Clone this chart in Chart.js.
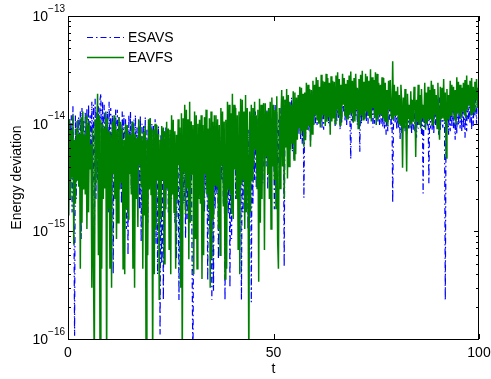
<!DOCTYPE html>
<html>
<head>
<meta charset="utf-8">
<script src="https://cdn.jsdelivr.net/npm/chart.js@4/dist/chart.umd.min.js"></script>
<style>
  html, body { margin: 0; padding: 0; background: #fff; }
  canvas { display: block; }
</style>
</head>
<body>
<canvas id="energyChart" width="491" height="379"></canvas>
<script>
// energy deviation sampled every 0.2 time units, t = 0 .. 100
const esavs = [
    1.35e-14, 3e-15, 1.1e-14, 4.6e-15, 1.2e-14, 1.5e-15, 1.45e-14, 2.45e-15, 1.07e-16, 1.2e-14, 2e-15, 1.09e-14, 3.4e-15, 1.15e-14, 5e-15, 1.3e-14, 8.5e-16, 1.4e-14, 3.5e-15, 1.09e-14,
    3.75e-15, 1.3e-14, 2.5e-15, 1.4e-14, 1.6e-15, 1.5e-14, 4e-15, 1.2e-14, 5.75e-15, 1.6e-14, 3e-15, 1.5e-14, 5.5e-16, 1.7e-14, 2e-15, 1.3e-14, 3e-15, 1.45e-14, 4.5e-15, 1.67e-14,
    1.9e-14, 2.5e-15, 1.6e-14, 4.6e-15, 1.5e-14, 3.5e-15, 1.25e-14, 2e-15, 1.3e-14, 1.5e-15, 1.6e-14, 6.4e-15, 1.4e-14, 2.8e-15, 1.2e-14, 4e-16, 1.12e-14, 5e-15, 1.35e-14, 3.75e-15,
    1.35e-14, 4e-15, 1.15e-14, 2.45e-15, 1.04e-14, 1.8e-15, 1.3e-14, 5.75e-15, 1.2e-14, 3e-15, 1.1e-14, 1.05e-15, 9.7e-15, 6e-16, 1.2e-14, 3.4e-15, 1.3e-14, 2.5e-15, 1.05e-14, 6.8e-16,
    1.09e-14, 2e-15, 1.2e-14, 4.1e-15, 9.2e-15, 4.5e-15, 1.1e-14, 1.6e-15, 1.2e-14, 8e-16, 1e-14, 3e-15, 9.7e-15, 2.2e-15, 1.15e-14, 2.9e-16, 8.8e-15, 1.2e-15, 1.05e-14, 3.75e-15,
    1.12e-14, 3.5e-15, 1e-14, 2e-15, 9.7e-15, 1.5e-15, 1.1e-14, 7.6e-16, 8.8e-15, 4e-16, 9.5e-15, 3e-15, 1.1e-16, 8e-15, 5e-16, 7.1e-15, 2.3e-16, 8.5e-15, 1.8e-15, 9.2e-15,
    2.45e-15, 8.5e-15, 1.5e-15, 7.9e-15, 1.05e-15, 7e-15, 2e-15, 6.4e-15, 3.75e-15, 7.5e-15, 1.2e-15, 5.75e-15, 5.5e-16, 6e-15, 4e-15, 2.3e-16, 7.1e-15, 2.2e-15, 6.5e-15, 1.6e-15,
    7.9e-15, 1.8e-15, 6e-15, 8.5e-16, 5.75e-15, 1.3e-15, 9e-15, 2.7e-15, 8.8e-15, 3e-15, 6.5e-15, 4.5e-16, 5e-17, 5.5e-15, 2.5e-15, 4.6e-15, 1.3e-15, 8e-15, 3.2e-15, 7.1e-15,
    2e-15, 7.5e-15, 3e-15, 6.4e-15, 6.8e-16, 5.5e-15, 1.5e-15, 4.6e-15, 2.45e-15, 6e-15, 3.5e-16, 7.9e-15, 1.05e-15, 5e-15, 6e-15, 2.3e-16, 5.75e-15, 2.8e-16, 7e-15, 1.6e-15,
    7.1e-15, 2.2e-15, 6e-15, 5.5e-16, 5.2e-15, 1.2e-15, 7.5e-15, 3e-15, 6.4e-15, 1.8e-15, 5.5e-15, 2.3e-16, 4.6e-15, 6.5e-15, 2.5e-15, 1.45e-15, 8.8e-15, 3e-16, 6e-15, 8.5e-16,
    5.75e-15, 2.5e-15, 1e-14, 1.45e-14, 2e-15, 8.5e-15, 4e-15, 7.9e-15, 6.8e-16, 6e-15, 5e-15, 2.3e-16, 7.1e-15, 1.5e-15, 9e-15, 2.45e-15, 9.7e-15, 3e-15, 1.1e-14, 1.05e-15,
    8.8e-15, 3e-15, 1.2e-14, 2.2e-16, 1.09e-14, 1.8e-15, 1.25e-14, 3e-15, 1.3e-14, 2.5e-15, 1.1e-14, 4.6e-15, 9.7e-15, 5e-15, 1.3e-14, 2e-15, 1.35e-14, 2.8e-15, 1.15e-14, 3.75e-15,
    1.2e-14, 4e-15, 1.35e-14, 2.45e-15, 1.4e-14, 3.2e-15, 1.25e-14, 5.75e-15, 1.12e-14, 4.5e-15, 1.45e-14, 1.6e-15, 1.5e-14, 6e-15, 1.3e-14, 4.1e-15, 1.09e-14, 3e-15, 1.4e-14, 7.1e-15,
    1.35e-14, 5e-15, 1.5e-14, 4.7e-16, 1.67e-14, 7e-15, 1.5e-14, 5.75e-15, 1.4e-14, 6e-15, 1.6e-14, 7.9e-15, 1.75e-14, 5.5e-15, 1.55e-14, 4.6e-15, 1.5e-14, 7e-15, 1.7e-14, 8.8e-15,
    1.67e-14, 8e-15, 1.8e-14, 7.1e-15, 1.85e-14, 6.5e-15, 1.6e-14, 2.05e-15, 1.6e-14, 7.5e-15, 1.9e-14, 8.8e-15, 1.95e-14, 8.5e-15, 1.7e-14, 6.4e-15, 1.75e-14, 8e-15, 2e-14, 9.7e-15,
    1.85e-14, 1e-14, 2.1e-14, 9.7e-15, 2.15e-14, 1.05e-14, 1.9e-14, 1.12e-14, 1.95e-14, 9e-15, 2.2e-14, 8.8e-15, 2.3e-14, 1.15e-14, 2e-14, 1.09e-14, 2.05e-14, 1e-14, 2.25e-14, 9.2e-15,
    2.15e-14, 1.1e-14, 2.4e-14, 1.2e-14, 1.95e-14, 9.5e-15, 2.2e-14, 1.04e-14, 2.3e-14, 1.1e-14, 2e-14, 8.8e-15, 1.85e-14, 1e-14, 2.3e-14, 1.3e-14, 2.25e-14, 1.05e-14, 2.1e-14, 9.7e-15,
    2.05e-14, 1.1e-14, 2.3e-14, 1.09e-14, 4.7e-15, 2e-14, 1.05e-14, 1.85e-14, 1.2e-14, 2.2e-14, 1.15e-14, 2.15e-14, 9.7e-15, 2.1e-14, 1.9e-14, 5.5e-15, 1.95e-14, 1e-14, 2.2e-14, 1.12e-14,
    2.3e-14, 1.1e-14, 2.1e-14, 1.04e-14, 1.95e-14, 1e-14, 2.25e-14, 1.2e-14, 2.15e-14, 1.15e-14, 1.95e-14, 9.2e-15, 1.85e-14, 1e-14, 2.3e-14, 1.12e-14, 2.05e-14, 1.05e-14, 1.9e-14, 9.7e-15,
    1.75e-14, 1e-14, 2.1e-14, 9.2e-15, 1.95e-14, 9e-15, 1.8e-14, 7.9e-15, 1.67e-14, 8.5e-15, 2e-14, 1.09e-14, 1.85e-14, 9e-15, 1.7e-14, 1.85e-15, 1.12e-14, 1.8e-14, 1e-14, 1.67e-14,
    8.8e-15, 1.6e-14, 9e-15, 1.5e-14, 7.1e-15, 1.7e-14, 8e-15, 1.35e-14, 9.7e-15, 1.5e-14, 8.5e-15, 1.67e-14, 7.9e-15, 1.55e-14, 9e-15, 1.3e-14, 9.2e-15, 1.75e-14, 8e-15, 1.6e-14,
    8.8e-15, 1.6e-14, 8.5e-15, 1.4e-14, 7.4e-15, 1.55e-14, 9e-15, 1.2e-14, 9.7e-15, 1.7e-14, 8e-15, 1.5e-14, 2.25e-15, 1.45e-14, 9e-15, 1.09e-14, 1.67e-14, 9.5e-15, 1.5e-14, 2.8e-15,
    1.35e-14, 9e-15, 1.8e-14, 8.8e-15, 1.67e-14, 8e-15, 1.6e-14, 9.7e-15, 1.4e-14, 9.5e-15, 1.7e-14, 7.9e-15, 1.75e-14, 8.5e-15, 1.5e-14, 1.09e-14, 9.2e-15, 1.6e-14, 1.4e-14, 2.3e-16,
    1.5e-14, 9e-15, 1.8e-14, 7.9e-15, 1.67e-14, 8.5e-15, 1.9e-14, 9.2e-15, 1.85e-14, 9e-15, 1.6e-14, 7.1e-15, 1.6e-14, 8e-15, 1.9e-14, 9.7e-15, 1.75e-14, 9e-15, 2e-14, 8.4e-15,
    1.95e-14, 9e-15, 2.1e-14, 7.4e-15, 1.67e-14, 8.5e-15, 1.9e-14, 1.09e-14, 1.85e-14, 1e-14, 2.2e-14, 8.8e-15, 2.05e-14, 9.5e-15, 1.8e-14, 1.2e-14, 1.75e-14, 1e-14, 2e-14, 1.5e-14,
    1.4e-14
];

const eavfs = [
    9.7e-15, 1.4e-15, 1.1e-14, 2e-15, 8.8e-15, 3.2e-15, 1.2e-14, 7.6e-16, 7.1e-15, 1.8e-15, 9e-15, 3e-15, 1.09e-14, 2.6e-15, 8e-15, 4.5e-16, 1.15e-14, 1.2e-15, 1.3e-14, 2.45e-15,
    7.9e-15, 2.2e-15, 1.2e-14, 1.05e-15, 9.7e-15, 1.5e-15, 1.05e-14, 3.75e-15, 6.4e-15, 3e-16, 9e-15, 4.5e-16, 5e-17, 1.1e-14, 2.8e-15, 8.4e-15, 1.9e-14, 6e-16, 1.2e-14, 5e-17,
    1.09e-14, 4.5e-16, 1e-14, 2e-15, 9.2e-15, 2.5e-15, 1.3e-14, 5e-17, 1.12e-14, 1.6e-15, 8.5e-15, 4.5e-16, 7.9e-15, 3e-16, 1.05e-14, 3.4e-15, 1.2e-14, 2e-15, 9.5e-15, 8.5e-16,
    8.8e-15, 1.2e-15, 1.15e-14, 2.45e-15, 1.04e-14, 2.8e-15, 9e-15, 4.5e-16, 7.1e-15, 4e-16, 1e-14, 1.6e-15, 9.7e-15, 1.3e-15, 8.2e-15, 3.4e-15, 7.9e-15, 2.2e-15, 1.05e-14, 4.5e-16,
    9.2e-15, 3e-16, 8e-15, 2e-15, 7.4e-15, 1.1e-15, 1.1e-14, 4.1e-15, 9.4e-15, 2.6e-15, 7.5e-15, 4.5e-16, 8.4e-15, 1.4e-15, 9.5e-15, 5e-17, 7.1e-15, 6e-16, 1.1e-14, 2.45e-15,
    1.12e-14, 2.2e-15, 9e-15, 5e-17, 8.8e-15, 4e-16, 1e-14, 1.05e-15, 9.7e-15, 3e-15, 8e-15, 2.3e-16, 7.1e-15, 1.3e-15, 9.5e-15, 3e-15, 9.2e-15, 5e-16, 8.5e-15, 1.6e-15,
    1.04e-14, 2.5e-15, 9e-15, 6.8e-16, 8.8e-15, 4e-16, 1.2e-14, 2.2e-15, 1.09e-14, 1.5e-15, 8.5e-15, 4.5e-16, 7.9e-15, 2e-15, 1.1e-14, 4.1e-15, 9.2e-15, 3e-16, 1.25e-14, 5e-17,
    1.12e-14, 3.5e-15, 1.5e-14, 1.45e-15, 1.35e-14, 2.5e-15, 1.1e-14, 5.5e-16, 1.6e-14, 1.2e-15, 1.05e-14, 3.4e-15, 9.7e-15, 4e-16, 1.3e-14, 8.5e-16, 1.2e-14, 4.5e-16, 1e-14, 2e-15,
    1.09e-14, 1.8e-15, 1.2e-14, 3.6e-16, 9.7e-15, 6e-16, 1.15e-14, 3.4e-15, 1.35e-14, 2.2e-15, 9e-15, 1.6e-15, 1.12e-14, 3e-16, 1.3e-14, 5.5e-16, 1.04e-14, 1.3e-15, 1.2e-14, 2.7e-15,
    1.2e-14, 2.6e-15, 1.1e-14, 1.05e-15, 9.7e-15, 6e-16, 1.4e-14, 4.1e-15, 1.3e-14, 1.7e-15, 1.05e-14, 3.6e-16, 1.09e-14, 4.5e-16, 1.6e-14, 2.45e-15, 1.5e-14, 2.2e-15, 1.25e-14, 1.45e-15,
    1.9e-14, 1.3e-15, 1.5e-14, 3.75e-15, 1.4e-14, 2e-15, 1.2e-14, 6.8e-16, 1.3e-14, 4e-16, 1.7e-14, 2.7e-15, 1.67e-14, 3e-15, 1.3e-14, 1.05e-15, 1.85e-14, 1.5e-15, 1.4e-14, 4.6e-15,
    5e-17, 1.3e-14, 1.5e-15, 1.5e-14, 3e-15, 1.4e-14, 4e-15, 1.6e-14, 5.75e-15, 1.2e-14, 2.5e-15, 1.35e-14, 3.4e-16, 1.7e-14, 1.2e-15, 1.5e-14, 2e-15, 1.3e-14, 1.55e-14, 6.7e-16,
    1.55e-14, 5e-15, 1.3e-14, 3.4e-15, 1.4e-14, 2e-15, 1.6e-14, 1.05e-15, 1.75e-14, 4e-15, 1.5e-14, 3e-15, 1.35e-14, 1.6e-15, 1.8e-14, 8.5e-16, 4.5e-16, 1.4e-14, 2.5e-15, 1.09e-14,
    2.05e-14, 4e-15, 1.8e-14, 2e-15, 1.67e-14, 6e-15, 2.1e-14, 3.1e-15, 1.85e-14, 4e-15, 1.6e-14, 5.75e-15, 1.5e-14, 6.5e-15, 2e-14, 4.6e-15, 1.95e-14, 5.2e-15, 1.75e-14, 7.1e-15,
    1.85e-14, 9e-15, 2.2e-14, 7.9e-15, 2.15e-14, 8.5e-15, 1.9e-14, 6.1e-15, 1.95e-14, 7e-15, 2.4e-14, 8.8e-15, 2.3e-14, 9.5e-15, 2.1e-14, 6.1e-15, 2.05e-14, 8e-15, 2.5e-14, 9.7e-15,
    2.3e-14, 1.2e-14, 2.7e-14, 1.09e-14, 2.55e-14, 1e-14, 2.2e-14, 9.2e-15, 2.85e-14, 1.1e-14, 2.5e-14, 1.2e-14, 2.45e-14, 9.5e-15, 2.9e-14, 1.04e-14, 2.65e-14, 1.15e-14, 2.4e-14, 7.9e-15,
    2.75e-14, 1.05e-14, 2.5e-14, 1.12e-14, 2.45e-14, 1e-14, 2.8e-14, 1.35e-14, 3e-14, 1.2e-14, 2.6e-14, 9.7e-15, 2.3e-14, 1.1e-14, 2.9e-14, 1.5e-14, 2.65e-14, 1.2e-14, 2.35e-14, 1.09e-14,
    2.55e-14, 1.1e-14, 2.8e-14, 1.2e-14, 3.05e-14, 1.25e-14, 2.5e-14, 1.02e-14, 2.65e-14, 1.05e-14, 2.9e-14, 1.35e-14, 2.15e-14, 9e-15, 2.6e-14, 1e-14, 2.85e-14, 1.2e-14, 3.1e-14, 1.09e-14,
    2.45e-14, 1.1e-14, 2.9e-14, 1.3e-14, 2.75e-14, 1.2e-14, 2.5e-14, 1.12e-14, 3.2e-14, 1.05e-14, 2.7e-14, 1.4e-14, 2.55e-14, 1.15e-14, 3e-14, 9.7e-15, 2.9e-14, 1.1e-14, 2.4e-14, 1.2e-14,
    2.3e-14, 1.2e-14, 2.7e-14, 1.12e-14, 2.65e-14, 1.05e-14, 2.4e-14, 1.04e-14, 2.05e-14, 9.5e-15, 2.5e-14, 1.35e-14, 2.55e-14, 1.2e-14, 1.1e-14, 3.8e-14, 1.09e-14, 2.3e-14, 1.2e-14, 2e-14,
    1.2e-14, 2.2e-14, 1e-14, 1.85e-14, 9.7e-15, 2.3e-14, 1.6e-14, 3.9e-15, 1.75e-14, 9e-15, 2.1e-14, 1.09e-14, 3.6e-15, 1.9e-14, 1.1e-14, 1.5e-14, 9e-15, 2e-14, 1e-14, 1.67e-14,
    1.04e-14, 2.2e-14, 1.8e-14, 4.9e-15, 1.67e-14, 1.05e-14, 2.3e-14, 9.7e-15, 1.85e-14, 9e-15, 2.1e-14, 1.12e-14, 1.5e-14, 1.05e-14, 2.4e-14, 8.8e-15, 1.95e-14, 1e-14, 2.2e-14, 1.09e-14,
    2.05e-14, 1.1e-14, 2.5e-14, 9.7e-15, 2.3e-14, 1e-14, 2.1e-14, 1.2e-14, 1.85e-14, 9e-15, 2.4e-14, 1.04e-14, 7.1e-15, 2.2e-14, 1.1e-14, 2.15e-14, 1.12e-14, 2.6e-14, 1.05e-14, 1.95e-14,
    4.8e-15, 2.1e-14, 1.1e-14, 1.85e-14, 1.09e-14, 2.5e-14, 1.2e-14, 2.3e-14, 1.3e-14, 2.2e-14, 1.1e-14, 2.05e-14, 9.7e-15, 2.7e-14, 1.25e-14, 2.45e-14, 1.2e-14, 2.3e-14, 1.1e-14, 2.15e-14,
    1.3e-14, 2.4e-14, 1.2e-14, 2.55e-14, 1.12e-14, 2.8e-14, 1.35e-14, 2.3e-14, 1.5e-14, 2.5e-14, 1.2e-14, 2.65e-14, 1.2e-14, 2.2e-14, 1.3e-14, 2.45e-14, 1.67e-14, 2.6e-14, 1.4e-14, 2.15e-14,
    1.85e-14
];

const dt = 0.2;
const times = esavs.map((_, i) => +(i * dt).toFixed(1));

const xTicks = [0, 50, 100];
const yTicks = [1e-16, 1e-15, 1e-14, 1e-13];
const yTickExp = ['\u221216', '\u221215', '\u221214', '\u221213'];

const FONT = '"Liberation Sans", Arial, Helvetica, sans-serif';

// box, inward ticks, labels and legend, drawn in the MATLAB way
const axisDecor = {
    id: 'axisDecor',
    afterDraw(chart) {
        const { ctx, chartArea: a, scales } = chart;
        const x = scales.x, y = scales.y;
        ctx.save();
        ctx.strokeStyle = '#000';
        ctx.lineWidth = 1;
        ctx.strokeRect(a.left + 0.5, a.top + 0.5, a.right - a.left - 1, a.bottom - a.top);

        ctx.beginPath();
        xTicks.forEach(v => {
            const px = Math.round(x.getPixelForValue(v)) + 0.5;
            ctx.moveTo(px, a.bottom); ctx.lineTo(px, a.bottom - 5);
            ctx.moveTo(px, a.top); ctx.lineTo(px, a.top + 5);
        });
        yTicks.forEach(v => {
            const py = Math.round(y.getPixelForValue(v)) + 0.5;
            ctx.moveTo(a.left, py); ctx.lineTo(a.left + 5, py);
            ctx.moveTo(a.right, py); ctx.lineTo(a.right - 5, py);
        });
        for (let d = 0; d < yTicks.length - 1; d++) {
            for (let k = 2; k <= 9; k++) {
                const py = Math.round(y.getPixelForValue(k * yTicks[d])) + 0.5;
                ctx.moveTo(a.left, py); ctx.lineTo(a.left + 3, py);
                ctx.moveTo(a.right, py); ctx.lineTo(a.right - 3, py);
            }
        }
        ctx.stroke();

        ctx.fillStyle = '#000';
        ctx.textBaseline = 'middle';
        yTicks.forEach((v, i) => {
            const py = y.getPixelForValue(v);
            ctx.font = '10px ' + FONT;
            ctx.textAlign = 'right';
            const ew = ctx.measureText(yTickExp[i]).width;
            ctx.fillText(yTickExp[i], a.left - 3, py - 7);
            ctx.font = '14px ' + FONT;
            ctx.fillText('10', a.left - 3 - ew, py + 1);
        });

        ctx.font = '14px ' + FONT;
        ctx.textAlign = 'center';
        xTicks.forEach(v => ctx.fillText(String(v), x.getPixelForValue(v), a.bottom + 14));
        ctx.fillText('t', (a.left + a.right) / 2, a.bottom + 30);

        ctx.save();
        ctx.translate(17, (a.top + a.bottom) / 2);
        ctx.rotate(-Math.PI / 2);
        ctx.fillText('Energy deviation', 0, 0);
        ctx.restore();

        // legend
        const entries = [chart.data.datasets[1], chart.data.datasets[0]];
        entries.forEach((ds, i) => {
            const ly = a.top + 21.5 + i * 20;
            ctx.strokeStyle = ds.borderColor;
            ctx.lineWidth = ds.borderWidth;
            ctx.setLineDash(ds.borderDash || []);
            ctx.beginPath();
            ctx.moveTo(a.left + 19, ly);
            ctx.lineTo(a.left + 56, ly);
            ctx.stroke();
            ctx.setLineDash([]);
            ctx.textAlign = 'left';
            ctx.fillText(ds.label, a.left + 60, ly + 1);
        });
        ctx.restore();
    }
};

new Chart(document.getElementById('energyChart'), {
    type: 'line',
    data: {
        labels: times,
        datasets: [
            {
                label: 'EAVFS',
                data: eavfs,
                borderColor: '#008000',
                borderWidth: 1.5,
                pointRadius: 0,
                tension: 0,
                order: 0
            },
            {
                label: 'ESAVS',
                data: esavs,
                borderColor: '#0000ff',
                borderWidth: 1.2,
                borderDash: [6, 3, 1.5, 3],
                pointRadius: 0,
                tension: 0,
                order: 1
            }
        ]
    },
    options: {
        responsive: false,
        animation: false,
        layout: { padding: { left: 0, right: 12, top: 16, bottom: 0 } },
        plugins: {
            legend: { display: false },
            tooltip: { enabled: false }
        },
        scales: {
            x: {
                type: 'linear',
                min: 0,
                max: 100,
                grid: { display: false },
                border: { display: false },
                ticks: { display: false },
                afterFit: scale => { scale.height = 40; }
            },
            y: {
                type: 'logarithmic',
                min: 1e-16,
                max: 1e-13,
                grid: { display: false },
                border: { display: false },
                ticks: { display: false },
                afterFit: scale => { scale.width = 68; }
            }
        }
    },
    plugins: [axisDecor]
});
</script>
</body>
</html>
